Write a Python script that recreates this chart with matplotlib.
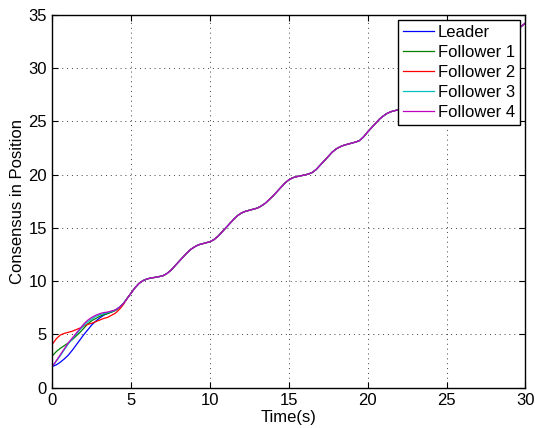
import numpy as np
import matplotlib.pyplot as plt

plt.rcParams['font.family'] = ['Liberation Sans', 'DejaVu Sans']

# time samples (s)
t = np.arange(0, 30.001, 0.25)

# leader position
leader = [2.0, 2.15, 2.4, 2.7, 3.05, 3.5, 4.0, 4.5, 5.0, 5.45,
          5.9, 6.25, 6.55, 6.8, 7.0, 7.1, 7.3, 7.55, 7.9, 8.4,
          8.9, 9.4, 9.8, 10.05, 10.2, 10.3, 10.35, 10.42, 10.5, 10.7,
          11.0, 11.4, 11.8, 12.2, 12.6, 12.95, 13.2, 13.4, 13.5, 13.6,
          13.7, 13.9, 14.2, 14.6, 15.0, 15.4, 15.8, 16.15, 16.4, 16.55,
          16.65, 16.75, 16.85, 17.05, 17.3, 17.65, 18.0, 18.4, 18.8, 19.2,
          19.5, 19.7, 19.8, 19.88, 19.95, 20.05, 20.2, 20.5, 20.9, 21.3,
          21.7, 22.1, 22.4, 22.6, 22.75, 22.85, 22.95, 23.05, 23.2, 23.55,
          24.0, 24.4, 24.8, 25.2, 25.5, 25.75, 25.9, 26.0, 26.1, 26.2,
          26.3, 26.55, 26.9, 27.3, 27.7, 28.1, 28.5, 28.8, 29.0, 29.1,
          29.2, 29.3, 29.4, 29.6, 29.9, 30.3, 30.7, 31.1, 31.5, 31.85,
          32.1, 32.2, 32.3, 32.4, 32.5, 32.7, 33.0, 33.3, 33.6, 33.9,
          34.2]

# followers differ only during the first seconds (t = 0 .. 4.5)
f1_start = [3.0, 3.4, 3.7, 3.95, 4.2, 4.5, 4.85, 5.2, 5.6, 6.0,
            6.3, 6.5, 6.7, 6.85, 6.95, 7.1, 7.25, 7.5, 7.9]
f2_start = [4.1, 4.6, 4.95, 5.1, 5.2, 5.3, 5.45, 5.6, 5.8, 5.95,
            6.05, 6.2, 6.35, 6.5, 6.6, 6.8, 7.0, 7.35, 7.8]
f3_start = [2.0, 2.5, 3.0, 3.55, 4.1, 4.55, 5.0, 5.45, 5.85, 6.2,
            6.45, 6.7, 6.85, 6.95, 7.05, 7.15, 7.3, 7.55, 7.9]
f4_start = [2.0, 2.55, 3.1, 3.65, 4.2, 4.65, 5.1, 5.55, 6.0, 6.35,
            6.6, 6.8, 6.95, 7.05, 7.1, 7.2, 7.3, 7.55, 7.9]

n = len(f1_start)
follower1 = f1_start + leader[n:]
follower2 = f2_start + leader[n:]
follower3 = f3_start + leader[n:]
follower4 = f4_start + leader[n:]

fig = plt.figure(figsize=(5.35, 4.28), dpi=100)
ax = fig.add_axes([0.098, 0.094, 0.884, 0.872])

lw = 0.9
ax.plot(t, leader, color='b', lw=lw, label='Leader')
ax.plot(t, follower1, color='#008000', lw=lw, label='Follower 1')
ax.plot(t, follower2, color='r', lw=lw, label='Follower 2')
ax.plot(t, follower3, color='c', lw=lw, label='Follower 3')
ax.plot(t, follower4, color='m', lw=lw, label='Follower 4')

ax.set_xlim(0, 30)
ax.set_ylim(0, 35)
ax.set_xticks(range(0, 31, 5))
ax.set_yticks(range(0, 36, 5))
ax.grid(True, linestyle=(0, (1, 4)), color='#404040', linewidth=0.7)
ax.tick_params(direction='in', top=True, right=True, labelsize=12, length=4, pad=4)
for s in ax.spines.values():
    s.set_linewidth(1.0)

ax.set_xlabel('Time(s)', fontsize=12, labelpad=1)
ax.set_ylabel('Consensus in Position', fontsize=12, labelpad=2)

leg = ax.legend(loc='upper right', fontsize=12, fancybox=False, framealpha=1,
                edgecolor='black', handlelength=1.85, handletextpad=0.25,
                labelspacing=0.3, borderpad=0.3, borderaxespad=0.3)
leg.get_frame().set_linewidth(1.0)

fig.savefig('out.png', dpi=100)
